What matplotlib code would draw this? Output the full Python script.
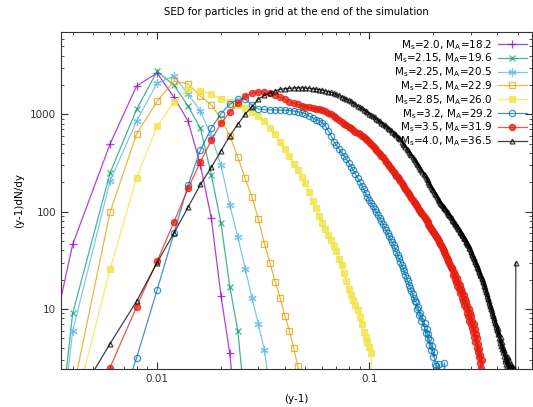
import numpy as np
import matplotlib
matplotlib.use('Agg')
import matplotlib.pyplot as plt
from matplotlib.ticker import LogLocator, FuncFormatter, NullFormatter

# energy bins are 0.002 wide in (y-1); each series lists its first bin and the values per bin
bin_width = 0.002

ms20_start = 0.002
ms20_vals = [0.045, 46, 494, 1950, 2650, 1500, 850, 300, 86, 13.6, 3.5, 0.5]

ms215_start = 0.002
ms215_vals = [1e-5, 9, 249, 1120, 2760, 1990, 1210, 720, 240, 76, 17, 6, 1]

ms225_start = 0.002
ms225_vals = [1e-5, 5.9, 206, 850, 2090, 2460, 1610, 1080, 600, 300, 117, 55, 26, 13, 7, 3.8, 1.5]

ms25_start = 0.004
ms25_vals = [1.4, 98, 627, 1360, 2190, 2050, 1540, 1250, 900, 600, 363, 220, 140, 84, 47,
             30, 19, 13, 8.5, 6, 4, 2.6, 1.5]

ms285_start = 0.004
ms285_vals = [0.8, 25.6, 221, 757, 1330, 1800, 1740, 1600, 1450, 1350,
              1250, 1150, 1050, 950, 850, 730, 620, 520, 440, 370,
              310, 265, 225, 195, 160, 130, 108, 90, 77, 66,
              58, 51, 44, 39, 33, 28, 23.5, 19.5, 16, 14,
              12.3, 11, 9.8, 8.3, 7, 5.8, 5.2, 4.6, 4.1, 3.5, 1.5]

ms32_start = 0.006
ms32_vals = [0.5, 3.14, 15.7, 60, 187, 430, 720, 1010, 1270, 1430,
             1430, 1240, 1130, 1120, 1110, 1110, 1100, 1100, 1090, 1080,
             1060, 1040, 1010, 960, 920, 880, 850, 820, 760, 680,
             600, 525, 480, 440, 405, 375, 345, 315, 290, 265,
             242, 222, 203, 185, 170, 155, 142, 131, 122, 114,
             106, 99, 92, 86, 80, 74.5, 69.5, 65, 60, 56,
             52, 48.7, 45.4, 42, 38.8, 35.9, 33.2, 30.7, 28.4, 26.3,
             24.3, 22.5, 20.8, 19.2, 17.8, 16.5, 15.2, 14.1, 13, 12.1,
             11.8, 10.0, 10.4, 8.7, 9.2, 7.6, 8.0, 6.6, 7.1, 5.7,
             6.2, 5.0, 5.5, 4.3, 4.8, 3.8, 4.2, 3.2, 3.6, 2.7,
             2.6, 2.3, 2.0, 0.1, 2.7, 0.1, 0.1, 0.1, 0.1, 0.1,
             2.8, 0.1]

ms35_start = 0.006
ms35_vals = [2.5, 10.5, 31, 78, 174, 324, 540, 810, 1050, 1300,
             1540, 1650, 1690, 1680, 1640, 1570, 1500, 1420, 1340, 1300,
             1260, 1230, 1200, 1180, 1160, 1140, 1120, 1100, 1070, 1040,
             1000, 960, 920, 880, 840, 800, 770, 740, 715, 690,
             665, 640, 620, 600, 580, 560, 540, 520, 495, 470,
             450, 430, 412, 395, 377, 360, 342, 325, 310, 295,
             282, 270, 257, 245, 235, 225, 215, 206, 197, 188,
             180, 172, 164, 157, 150, 144, 137, 131, 126, 122,
             117, 113, 109, 105, 101, 97, 94, 90, 87, 84,
             81, 78, 75, 72, 70, 67, 65, 62, 60, 58,
             56, 54, 52, 50, 48.5, 47, 45, 43.2, 41.4, 39.7,
             38.1, 36.5, 35, 33.5, 32.1, 30.8, 29.5, 28.3, 27.1, 26,
             26.5, 22.5, 24.0, 20.5, 22.3, 19.0, 21.0, 17.4, 19.0, 16.2,
             17.5, 14.6, 16.2, 13.0, 15.0, 12.0, 13.8, 11.0, 12.8, 10.2,
             11.8, 9.2, 10.8, 8.4, 10.0, 7.6, 9.0, 7.0, 8.4, 6.4,
             7.6, 5.8, 7.0, 5.2, 6.2, 4.6, 5.6, 4.0, 5.0, 3.6,
             4.4, 3.2, 3.9, 2.8, 3.4, 2.5, 3.0, 2.2, 1.5]

ms40_start = 0.004
ms40_vals = [1.0, 4.4, 12, 30, 60, 111, 190, 285, 420, 600,
             790, 1000, 1200, 1430, 1560, 1660, 1740, 1800, 1830, 1850,
             1860, 1870, 1870, 1860, 1850, 1830, 1810, 1790, 1770, 1740,
             1710, 1680, 1640, 1600, 1560, 1520, 1480, 1440, 1400, 1360,
             1310, 1260, 1222, 1185, 1150, 1115, 1082, 1050, 1018, 987,
             958, 929, 901, 874, 848, 823, 798, 774, 751, 728,
             706, 685, 665, 645, 625, 607, 588, 571, 554, 519,
             499, 480, 461, 444, 426, 410, 394, 379, 364, 350,
             337, 324, 311, 299, 288, 277, 266, 256, 246, 236,
             227, 218, 210, 202, 194, 187, 179, 172, 166, 160,
             153, 147, 142, 136, 131, 128, 124, 121, 118, 115,
             112, 109, 106, 103, 100, 98, 95, 93, 90, 88,
             86, 83, 81, 79, 77, 75, 73, 71, 69, 67,
             66, 64, 62, 61, 59, 57, 56, 54, 53, 52,
             50, 49, 48, 47, 45.4, 43.9, 42.5, 41, 39.7, 38.4,
             37.1, 35.8, 34.6, 33.5, 32.4, 31.3, 30.3, 29.3, 28.3, 27.3,
             26.4, 25.5, 24.7, 23.9, 23.1, 22.3, 21.6, 20.9, 20.2, 19.5,
             18.8, 18.1, 17.4, 16.7, 16, 15.4, 14.8, 14.2, 13.6, 13.1,
             12.6, 12.1, 11.6, 11.1, 10.7, 10.3, 9.9, 9.5, 9.1, 8.7,
             8.4, 8.0, 7.7, 7.4, 7.1, 6.8, 6.6, 6.3, 6.1, 5.8,
             6.4, 5.5, 5.0, 5.6, 4.8, 4.5, 5.1, 4.2, 4.6, 3.9,
             4.3, 3.6, 4.0, 3.3, 3.8, 3.1, 3.5, 2.9, 3.3, 2.7,
             3.0, 2.6, 3.2, 2.4, 2.8, 2.2, 3.0, 2.0, 2.6, 1.8,
             2.7, 1.5, 2.5, 1.2, 2.6, 1.0, 2.4, 0.8, 2.5, 0.5,
             1.0, 0.5, 0.5, 30]

series = [
    (ms20_start, ms20_vals, r'M$_\mathrm{s}$=2.0, M$_\mathrm{A}$=18.2', '#9400d3', '+', 6, 'full'),
    (ms215_start, ms215_vals, r'M$_\mathrm{s}$=2.15, M$_\mathrm{A}$=19.6', '#009e73', 'x', 5, 'full'),
    (ms225_start, ms225_vals, r'M$_\mathrm{s}$=2.25, M$_\mathrm{A}$=20.5', '#56b4e9', (6, 2, 0), 6, 'full'),
    (ms25_start, ms25_vals, r'M$_\mathrm{s}$=2.5, M$_\mathrm{A}$=22.9', '#e69f00', 's', 5, 'none'),
    (ms285_start, ms285_vals, r'M$_\mathrm{s}$=2.85, M$_\mathrm{A}$=26.0', '#f0e442', 's', 5, 'full'),
    (ms32_start, ms32_vals, r'M$_\mathrm{s}$=3.2, M$_\mathrm{A}$=29.2', '#0072b2', 'o', 4.5, 'none'),
    (ms35_start, ms35_vals, r'M$_\mathrm{s}$=3.5, M$_\mathrm{A}$=31.9', '#e51e10', 'o', 4.5, 'full'),
    (ms40_start, ms40_vals, r'M$_\mathrm{s}$=4.0, M$_\mathrm{A}$=36.5', 'black', '^', 3.5, 'none'),
]

fig = plt.figure(figsize=(5.33, 4.07), dpi=100)
ax = fig.add_axes([0.1144, 0.0934, 0.8846, 0.828])

for start, vals, label, color, marker, ms, fill in series:
    x = start + bin_width * np.arange(len(vals))
    mfc = color if fill == 'full' else 'none'
    ax.plot(x, vals, '-', color=color, lw=0.9, alpha=0.75, marker=marker, ms=ms,
            mfc=mfc, mec=color, mew=0.9, label=label)

ax.set_xscale('log')
ax.set_yscale('log')
ax.set_xlim(0.003524, 0.587)
ax.set_ylim(2.42, 7000)

plain = FuncFormatter(lambda v, p: f'{v:g}')
ax.xaxis.set_major_formatter(plain)
ax.yaxis.set_major_formatter(plain)
ax.xaxis.set_minor_formatter(NullFormatter())
ax.yaxis.set_minor_formatter(NullFormatter())
ax.xaxis.set_minor_locator(LogLocator(subs=np.arange(2, 10)))
ax.yaxis.set_minor_locator(LogLocator(subs=np.arange(2, 10)))
ax.tick_params(which='both', direction='in', top=True, right=True, colors='#333333', labelsize=7.5)
ax.tick_params(which='major', length=5)
ax.tick_params(which='minor', length=2.5)
for s in ax.spines.values():
    s.set_color('#333333')

ax.set_xlabel('(y-1)', fontsize=7.5, labelpad=7)
ax.set_ylabel('(y-1)dN/dy', fontsize=7.5)
ax.set_title('SED for particles in grid at the end of the simulation', fontsize=7.3, pad=12)

ax.legend(loc='upper right', frameon=False, markerfirst=False, fontsize=7.5,
          handlelength=2.8, labelspacing=0.0, borderaxespad=0.15, handletextpad=0.5)

fig.savefig('out.png', dpi=100)
